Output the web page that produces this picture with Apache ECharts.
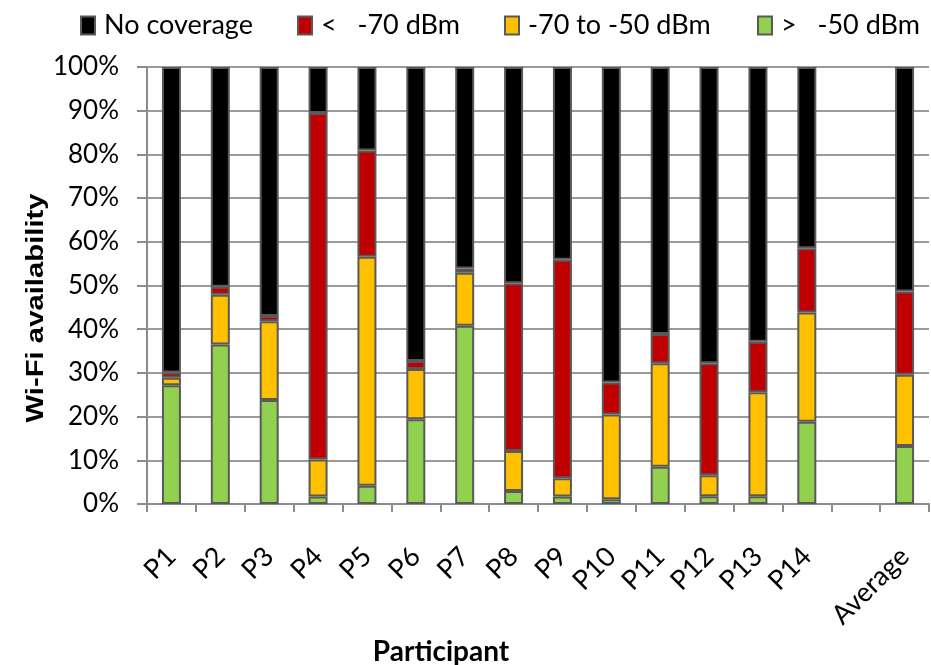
<!DOCTYPE html>
<html>
<head>
<meta charset="utf-8">
<title>Wi-Fi availability per participant</title>
<script src="https://cdn.jsdelivr.net/npm/echarts@6/dist/echarts.min.js"></script>
<style>
  html, body { margin: 0; padding: 0; background: #ffffff; }
  #chart { width: 931px; height: 665px; }
</style>
</head>
<body>
<div id="chart"></div>
<script>
// Participants (an empty slot separates the individual bars from the average)
const categories = ['P1', 'P2', 'P3', 'P4', 'P5', 'P6', 'P7', 'P8', 'P9', 'P10', 'P11', 'P12', 'P13', 'P14', '', 'Average'];

// Share of time (%) in each signal band, stacked bottom to top
const strongSignal = [27.2, 36.5, 23.8, 1.7, 4.2, 19.4, 40.8, 3.0, 1.7, 1.1, 8.5, 1.8, 1.8, 18.8, null, 13.3];   // > -50 dBm
const mediumSignal = [1.7, 11.4, 18.0, 8.5, 52.4, 11.5, 12.1, 9.1, 4.2, 19.4, 23.7, 4.8, 23.8, 25.0, null, 16.3]; // -70 to -50 dBm
const weakSignal   = [1.2, 1.8, 1.2, 79.3, 24.3, 1.8, 1.0, 38.4, 50.0, 7.3, 6.7, 25.6, 11.5, 14.7, null, 19.0];  // < -70 dBm
const noCoverage   = [69.9, 50.3, 57.0, 10.5, 19.1, 67.3, 46.1, 49.5, 44.1, 72.2, 61.1, 67.8, 62.9, 41.5, null, 51.4];

const seriesNames = ['No coverage', '<   -70 dBm', '-70 to -50 dBm', '>   -50 dBm'];
const yTicks = { min: 0, max: 100, interval: 10 };

const FONT = 'Lato, "Open Sans", sans-serif';
const COLORS = { none: '#000000', weak: '#C00000', medium: '#FFC000', strong: '#92D050' };
const BORDER = '#595959';
const AXIS_GREY = '#8c8c8c';

function barSeries(name, data, color) {
  return {
    name: name,
    type: 'bar',
    stack: 'availability',
    data: data,
    barWidth: 19,
    itemStyle: { color: color, borderColor: BORDER, borderWidth: 2 },
    emphasis: { disabled: true }
  };
}

// One legend per entry so each key sits at its own spot along the top
const legendLeft = [80, 297, 504, 757];
const legends = seriesNames.map((n, i) => ({
  data: [n],
  left: legendLeft[i],
  top: 12,
  padding: 0,
  icon: 'rect',
  itemWidth: 14,
  itemHeight: 18,
  selectedMode: false,
  textStyle: { fontFamily: FONT, fontSize: 27, color: '#000000', padding: [0, 0, 0, 4] }
}));

const chart = echarts.init(document.getElementById('chart'), null, { renderer: 'canvas' });
chart.setOption({
  animation: false,
  backgroundColor: '#ffffff',
  legend: legends,
  title: {
    text: 'Participant',
    left: 436,
    top: 633,
    textAlign: 'center',
    textStyle: { fontFamily: FONT, fontSize: 28, fontWeight: 'bold', color: '#000000' }
  },
  // Vertical axis title, slightly stretched along its length
  graphic: [{
    type: 'text',
    x: 36,
    y: 308,
    rotation: Math.PI / 2,
    scaleX: 1.22,
    style: {
      text: 'Wi-Fi availability',
      fill: '#000000',
      font: 'bold 24px "Liberation Sans", Arial, sans-serif',
      align: 'center',
      verticalAlign: 'middle'
    }
  }],
  grid: { left: 147, right: 2, top: 67, bottom: 161, containLabel: false },
  xAxis: {
    type: 'category',
    data: categories,
    axisLine: { lineStyle: { color: AXIS_GREY, width: 2 } },
    axisTick: { show: true, length: 8, interval: 0, lineStyle: { color: AXIS_GREY, width: 2 } },
    axisLabel: {
      interval: 0,
      rotate: 45,
      margin: 48,
      fontFamily: FONT,
      fontSize: 27,
      color: '#000000'
    },
    splitLine: { show: false }
  },
  yAxis: {
    type: 'value',
    min: yTicks.min,
    max: yTicks.max,
    interval: yTicks.interval,
    axisLine: { show: true, lineStyle: { color: AXIS_GREY, width: 2 } },
    axisTick: { show: true, length: 10, lineStyle: { color: AXIS_GREY, width: 2 } },
    axisLabel: {
      formatter: '{value}%',
      margin: 28,
      fontFamily: FONT,
      fontSize: 26,
      color: '#000000'
    },
    splitLine: { show: true, lineStyle: { color: '#9a9a9a', width: 2 } }
  },
  series: [
    barSeries(seriesNames[3], strongSignal, COLORS.strong),
    barSeries(seriesNames[2], mediumSignal, COLORS.medium),
    barSeries(seriesNames[1], weakSignal, COLORS.weak),
    barSeries(seriesNames[0], noCoverage, COLORS.none)
  ]
});
</script>
</body>
</html>
